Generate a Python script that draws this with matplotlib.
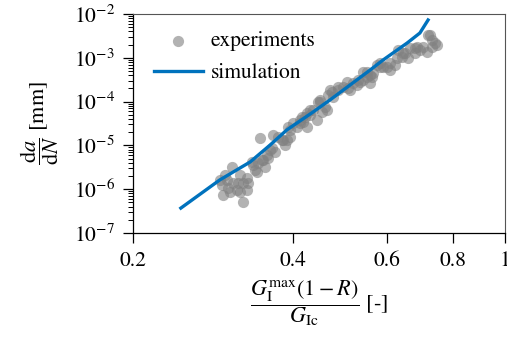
import matplotlib
matplotlib.use("Agg")
import matplotlib.pyplot as plt
from matplotlib.ticker import FixedLocator, NullLocator, FixedFormatter

plt.rcParams["font.family"] = ["STIXGeneral", "DejaVu Serif"]
plt.rcParams["mathtext.fontset"] = "stix"

# Experimental crack growth rates: normalised energy release rate vs da/dN [mm]
exp_g = [0.294, 0.295, 0.298, 0.300, 0.302, 0.304, 0.307, 0.308, 0.314, 0.315,
         0.318, 0.322, 0.327, 0.329, 0.327, 0.336, 0.339, 0.342, 0.335, 0.347,
         0.350, 0.354, 0.357, 0.359, 0.362, 0.365, 0.370, 0.367, 0.375, 0.381,
         0.386, 0.389, 0.391, 0.394, 0.400, 0.407, 0.412, 0.416, 0.417, 0.425,
         0.425, 0.421, 0.430, 0.430, 0.436, 0.443, 0.445, 0.449, 0.453, 0.459,
         0.463, 0.465, 0.469, 0.473, 0.475, 0.486, 0.496, 0.505, 0.507, 0.511,
         0.518, 0.527, 0.529, 0.534, 0.541, 0.541, 0.551, 0.558, 0.558, 0.563,
         0.565, 0.575, 0.582, 0.590, 0.600, 0.608, 0.608, 0.621, 0.627, 0.641,
         0.643, 0.649, 0.657, 0.663, 0.678, 0.678, 0.683, 0.692, 0.701, 0.714,
         0.717, 0.723, 0.729, 0.739, 0.745, 0.729, 0.630, 0.351, 0.344, 0.291,
         0.383, 0.394, 0.412, 0.486, 0.551, 0.449, 0.582, 0.318, 0.322]
exp_dadn = [1.25e-6, 7.4e-7, 2.11e-6, 1.62e-6, 1.06e-6, 8.6e-7, 3.21e-6, 1.39e-6, 9.6e-7, 1.39e-6,
            2.11e-6, 5.1e-7, 1.80e-6, 1.39e-6, 9.6e-7, 3.57e-6, 2.74e-6, 2.47e-6, 4.18e-6, 1.48e-5,
            4.64e-6, 3.21e-6, 6.0e-6, 5.2e-6, 7.9e-6, 8.7e-6, 7.1e-6, 1.73e-5, 1.56e-5, 1.33e-5,
            1.02e-5, 1.33e-5, 2.63e-5, 1.56e-5, 3.24e-5, 2.63e-5, 3.80e-5, 4.45e-5, 3.42e-5, 2.63e-5,
            5.5e-5, 4.45e-5, 6.4e-5, 4.94e-5, 6.4e-5, 3.80e-5, 9.8e-5, 1.09e-4, 5.8e-5, 7.5e-5,
            6.4e-5, 1.42e-4, 1.84e-4, 1.66e-4, 1.27e-4, 2.15e-4, 2.15e-4, 2.80e-4, 2.05e-4, 1.84e-4,
            2.66e-4, 2.39e-4, 3.11e-4, 2.80e-4, 4.74e-4, 3.11e-4, 3.65e-4, 4.05e-4, 2.66e-4, 3.65e-4,
            4.50e-4, 6.85e-4, 6.17e-4, 6.17e-4, 6.17e-4, 7.6e-4, 5.26e-4, 6.85e-4, 9.9e-4, 1.04e-3,
            1.29e-3, 1.29e-3, 9.9e-4, 1.67e-3, 1.67e-3, 1.29e-3, 1.77e-3, 1.51e-3, 1.77e-3, 1.36e-3,
            3.32e-3, 3.32e-3, 2.55e-3, 2.18e-3, 1.96e-3, 1.77e-3, 1.51e-3, 4.64e-6, 3.96e-6, 1.62e-6,
            1.33e-5, 2.25e-5, 3.24e-5, 1.84e-4, 4.74e-4, 9.8e-5, 7.6e-4, 8.6e-7, 1.39e-6]

# Simulated fatigue crack growth curve
sim_g = [0.246, 0.291, 0.332, 0.362, 0.389, 0.436, 0.469, 0.558, 0.590, 0.655, 0.692, 0.717]
sim_dadn = [3.7e-7, 1.62e-6, 4.18e-6, 1.02e-5, 2.25e-5, 5.79e-5, 1.09e-4, 5.26e-4, 8.9e-4,
            2.18e-3, 3.68e-3, 7.3e-3]

x_ticks = [0.2, 0.4, 0.6, 0.8, 1.0]
x_tick_labels = ["0.2", "0.4", "0.6", "0.8", "1"]
y_decades = [-7, -6, -5, -4, -3, -2]

fig = plt.figure(figsize=(5.07, 3.39), dpi=100)
ax = fig.add_axes([0.2623, 0.3127, 0.7337, 0.646])

ax.scatter(exp_g, exp_dadn, s=65, color="#808080", alpha=0.6, linewidths=0,
           label="experiments", zorder=2)
ax.plot(sim_g, sim_dadn, color="#0072BD", lw=2.4, label="simulation", zorder=3)

ax.set_xscale("log")
ax.set_yscale("log")
ax.set_xlim(0.2, 1.0)
ax.set_ylim(1e-7, 1e-2)

ax.xaxis.set_major_locator(FixedLocator(x_ticks))
ax.xaxis.set_major_formatter(FixedFormatter(x_tick_labels))
ax.xaxis.set_minor_locator(NullLocator())

y_major = [10.0 ** d for d in y_decades]
y_minor = [m * 10.0 ** d for d in y_decades[:-1] for m in range(2, 10)]
ax.yaxis.set_major_locator(FixedLocator(y_major))
ax.yaxis.set_major_formatter(FixedFormatter([rf"$10^{{{d}}}$" for d in y_decades]))
ax.yaxis.set_minor_locator(FixedLocator(y_minor))

ax.tick_params(which="major", direction="out", length=7, width=0.9, labelsize=15.5, pad=6)
ax.tick_params(which="minor", direction="out", length=3.5, width=0.7)
ax.tick_params(axis="y", which="both", right=False)
ax.tick_params(axis="x", which="both", top=False)

for side in ("top", "right"):
    ax.spines[side].set_color("#555555")
    ax.spines[side].set_linewidth(0.8)
for side in ("left", "bottom"):
    ax.spines[side].set_color("black")
    ax.spines[side].set_linewidth(0.9)

ax.set_ylabel(r"$\dfrac{\mathrm{d}a}{\mathrm{d}N}$ [mm]", fontsize=16, labelpad=9)
ax.set_xlabel(r"$\dfrac{G_\mathrm{I}^\mathrm{max}(1-R)}{G_\mathrm{Ic}}$ [-]", fontsize=16, labelpad=5)

ax.legend(loc="upper left", frameon=False, fontsize=15.5, handlelength=2.3,
          handletextpad=0.35, borderaxespad=0.3, labelspacing=0.55,
          bbox_to_anchor=(0.015, 0.99))

fig.savefig("out.png", dpi=100)
